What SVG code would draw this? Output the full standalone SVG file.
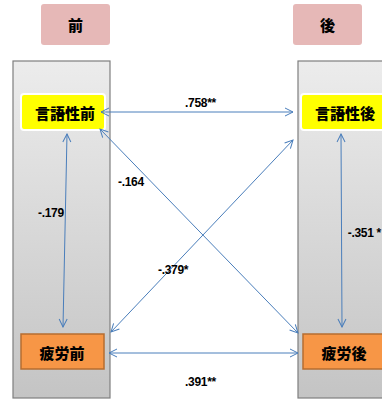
<svg xmlns="http://www.w3.org/2000/svg" width="382" height="400" viewBox="0 0 382 400">
<style>
.cjk{font-family:"Noto Sans CJK JP","Noto Sans CJK SC",sans-serif;font-weight:900;font-size:15px;fill:#000;text-anchor:middle;dominant-baseline:central}
.num{font-family:"Liberation Sans Narrow","Liberation Sans",Arial,sans-serif;font-weight:bold;font-size:12px;fill:#000;letter-spacing:-0.3px}
.pink{fill:#e6b8b7}
.panel{fill:url(#pg);stroke:#7f7f7f;stroke-width:1.2}
.yel{fill:#ffff00;stroke:#ffffff;stroke-width:2}
.org{fill:#f79646;stroke:#b66d31;stroke-width:1.5}
.con{stroke:#4a7ebb;stroke-width:1;fill:none;marker-start:url(#ah);marker-end:url(#ah)}
</style>
<defs>
<linearGradient id="pg" x1="0" y1="0" x2="0" y2="1">
<stop offset="0" stop-color="#ececec"/>
<stop offset="1" stop-color="#c4c4c4"/>
</linearGradient>
<marker id="ah" viewBox="0 0 10 10" refX="9" refY="5" markerWidth="10" markerHeight="10" markerUnits="userSpaceOnUse" orient="auto-start-reverse">
<path d="M1,1 L9,5 L1,9" fill="none" stroke="#4a7ebb" stroke-width="1"/>
</marker>
</defs>
<g id="header-pre">
<rect class="pink" x="41" y="4" width="69" height="41" rx="3"/>
<text class="cjk" x="75.5" y="24">前</text>
</g>
<g id="header-post">
<rect class="pink" x="293" y="4" width="69" height="41" rx="3"/>
<text class="cjk" x="327.5" y="24">後</text>
</g>
<g id="panel-pre">
<rect class="panel" x="13" y="61" width="97" height="337"/>
</g>
<g id="panel-post">
<rect class="panel" x="298" y="61" width="90" height="337"/>
</g>
<g id="verbal-pre">
<rect class="yel" x="21" y="94" width="84" height="36" rx="3"/>
<text class="cjk" x="65" y="112">言語性前</text>
</g>
<g id="verbal-post">
<rect class="yel" x="301" y="94" width="90" height="36" rx="3"/>
<text class="cjk" x="345" y="112">言語性後</text>
</g>
<g id="fatigue-pre">
<rect class="org" x="21" y="334" width="83" height="35"/>
<text class="cjk" x="62" y="352">疲労前</text>
</g>
<g id="fatigue-post">
<rect class="org" x="303" y="334" width="90" height="35"/>
<text class="cjk" x="344" y="352">疲労後</text>
</g>
<g id="connectors">
<line class="con" x1="101" y1="112" x2="293" y2="112"/>
<line class="con" x1="109" y1="353" x2="298" y2="353"/>
<line class="con" x1="67" y1="134" x2="63" y2="327"/>
<line class="con" x1="341" y1="134" x2="342" y2="327"/>
<line class="con" x1="100" y1="129" x2="298" y2="333"/>
<line class="con" x1="111" y1="332" x2="293" y2="140"/>
</g>
<g id="labels">
<text class="num" x="185" y="107">.758**</text>
<text class="num" x="185" y="386">.391**</text>
<text class="num" x="38" y="217">-.179</text>
<text class="num" x="118" y="186">-.164</text>
<text class="num" x="158" y="274">-.379*</text>
<text class="num" x="381" y="237" text-anchor="end">-.351 *</text>
</g>
</svg>
